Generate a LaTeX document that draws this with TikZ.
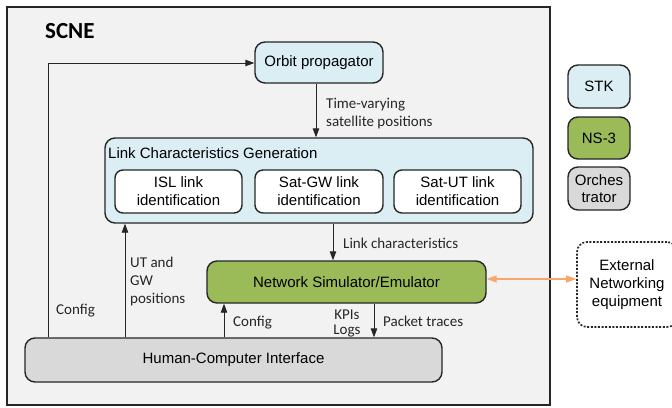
\documentclass[tikz,border=0pt]{standalone}
\usepackage{fontspec}
\setmainfont{Liberation Sans}
\newfontfamily\calfont{Carlito}
\usetikzlibrary{arrows.meta}
\definecolor{outerfill}{HTML}{F2F2F2}
\definecolor{bluefill}{HTML}{DAEEF3}
\definecolor{greenfill}{HTML}{9BBB59}
\definecolor{grayfill}{HTML}{D9D9D9}
\definecolor{edgecol}{HTML}{262626}
\definecolor{orangecol}{HTML}{F9A66C}
\tikzset{
  rbox/.style={draw=edgecol, line width=1.4pt, rounded corners=10pt, align=center,
    font=\fontsize{15}{18}\selectfont, inner sep=0pt},
  bluebox/.style={rbox, fill=bluefill},
  greenbox/.style={rbox, fill=greenfill},
  graybox/.style={rbox, fill=grayfill},
  whitebox/.style={rbox, fill=white, rounded corners=8pt},
  arr/.style={draw=edgecol, line width=0.9pt, -{Triangle[length=9pt,width=6.5pt]}},
  lbl/.style={font=\calfont\fontsize{15}{18}\selectfont, align=left, inner sep=0pt, text=edgecol},
}
\begin{document}
\begin{tikzpicture}[x=1pt,y=-1pt]
\useasboundingbox (0,0) rectangle (672,407);
\fill[white] (0,0) rectangle (672,407);
\clip (0,0) rectangle (672,407);

% outer container
\node[draw=edgecol, line width=1.6pt, fill=outerfill, minimum width=543pt, minimum height=398pt, inner sep=0pt] (scne) at (278.5,206) {};
\node[font=\calfont\bfseries\fontsize{23}{26}\selectfont, anchor=west, inner sep=0pt] (scnelbl) at (45,31.5) {SCNE};

% main boxes
\node[bluebox, minimum width=128pt, minimum height=41pt] (orbit) at (319,62.5) {Orbit propagator};
\node[bluebox, minimum width=428pt, minimum height=85pt] (lcg) at (319,180.5) {};
\node[anchor=west, inner sep=0pt, font=\fontsize{15}{18}\selectfont] (lcgtitle) at (108,153) {Link Characteristics Generation};
\node[whitebox, minimum width=127pt, minimum height=43pt] (isl) at (178.5,191.5) {ISL link\\identification};
\node[whitebox, minimum width=128pt, minimum height=43pt] (satgw) at (319,191.5) {Sat-GW link\\identification};
\node[whitebox, minimum width=127pt, minimum height=43pt] (satut) at (457.5,191.5) {Sat-UT link\\identification};

\node[greenbox, minimum width=279pt, minimum height=42pt] (ns) at (346.5,282) {Network Simulator/Emulator};
\node[graybox, minimum width=417pt, minimum height=44pt] (hci) at (233.5,360) {Human-Computer Interface};

% legend
\node[bluebox, minimum width=62pt, minimum height=43pt] (stk) at (599,86.5) {STK};
\node[greenbox, minimum width=62pt, minimum height=42pt] (ns3) at (599,138) {NS-3};
\node[graybox, minimum width=62pt, minimum height=43pt, font=\fontsize{15}{17}\selectfont] (orch) at (599,188.5) {Orches\\trator};

% external
\node[rbox, draw=edgecol, dash pattern=on 2pt off 1.6pt, line width=1.6pt, minimum width=100pt, minimum height=85pt, text width=100pt] (ext) at (627,284.5) {External\\Networking\\equipment};

% connectors
\coordinate (cfgtop) at (48,63);
\draw[arr] (cfgtop |- hci.north) -- (cfgtop) -- (orbit.west |- cfgtop);
\coordinate (utx) at (125,0);
\draw[arr] (utx |- hci.north) -- (utx |- lcg.south);
\coordinate (tvx) at (316,0);
\draw[arr] (tvx |- orbit.south) -- (tvx |- lcg.north);
\coordinate (lcx) at (333,0);
\draw[arr] (lcx |- lcg.south) -- (lcx |- ns.north);
\coordinate (cfx) at (224,0);
\draw[arr] (cfx |- hci.north) -- (cfx |- ns.south);
\coordinate (ptx) at (374,0);
\draw[arr] (ptx |- ns.south) -- (ptx |- hci.north);
\coordinate (exy) at (0,279);
\draw[orangecol, line width=1.2pt, {Triangle[length=10pt,width=7pt]}-{Triangle[length=10pt,width=7pt]}] (ns.east |- exy) -- (ext.west |- exy);

% labels
\node[lbl, anchor=west] (ltv) at (326,114) {Time-varying\\satellite positions};
\node[lbl, anchor=west] (llc) at (343,243) {Link characteristics};
\node[lbl, anchor=west] (lut) at (130,281) {UT and\\GW\\positions};
\node[lbl, anchor=west] (lcfg1) at (56,311) {Config};
\node[lbl, anchor=west] (lcfg2) at (233,323) {Config};
\node[lbl, align=center, font=\calfont\fontsize{15}{15}\selectfont] (lkpi) at (347,323) {KPIs\\Logs};
\node[lbl, anchor=west] (lpt) at (383,321) {Packet traces};
\end{tikzpicture}
\end{document}
